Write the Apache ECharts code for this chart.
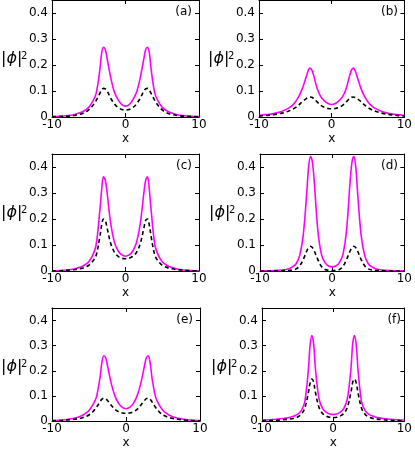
<!DOCTYPE html>
<html>
<head>
<meta charset="utf-8">
<script src="https://cdn.jsdelivr.net/npm/echarts@6/dist/echarts.min.js"></script>
<style>
  html, body { margin: 0; padding: 0; background: #fff; }
  #chart { width: 415px; height: 450px; }
</style>
</head>
<body>
<div id="chart"></div>
<script>
// sample positions along x (shared by every curve)
const xs = [-10, -9, -8, -7, -6, -5.5, -5, -4.5, -4, -3.5, -3.25, -3, -2.75, -2.5, -2, -1.5, -1, -0.5,
  0, 0.5, 1, 1.5, 2, 2.5, 2.75, 3, 3.25, 3.5, 4, 4.5, 5, 5.5, 6, 7, 8, 9, 10];

const panelLabels = ['(a)', '(b)', '(c)', '(d)', '(e)', '(f)'];
const xTicks = [-10, 0, 10];
const yTicks = [0, 0.1, 0.2, 0.3, 0.4];

// solid magenta curves
const solidA = [0.002, 0.003, 0.005, 0.009, 0.018, 0.026, 0.037, 0.058, 0.09, 0.18, 0.245, 0.268, 0.26, 0.225, 0.15, 0.095, 0.066, 0.048,
  0.042, 0.048, 0.066, 0.095, 0.15, 0.225, 0.26, 0.268, 0.245, 0.18, 0.09, 0.058, 0.037, 0.026, 0.018, 0.009, 0.005, 0.003, 0.002];
const solidB = [0.006, 0.009, 0.013, 0.02, 0.033, 0.043, 0.058, 0.08, 0.112, 0.155, 0.177, 0.188, 0.182, 0.162, 0.11, 0.078, 0.062, 0.052,
  0.048, 0.052, 0.062, 0.078, 0.11, 0.162, 0.182, 0.188, 0.177, 0.155, 0.112, 0.08, 0.058, 0.043, 0.033, 0.02, 0.013, 0.009, 0.006];
const solidC = [0.001, 0.002, 0.004, 0.008, 0.016, 0.024, 0.036, 0.058, 0.1, 0.23, 0.31, 0.362, 0.35, 0.3, 0.18, 0.11, 0.077, 0.062,
  0.057, 0.062, 0.077, 0.11, 0.18, 0.3, 0.35, 0.362, 0.31, 0.23, 0.1, 0.058, 0.036, 0.024, 0.016, 0.008, 0.004, 0.002, 0.001];
const solidD = [0.001, 0.001, 0.002, 0.004, 0.009, 0.016, 0.028, 0.06, 0.14, 0.31, 0.405, 0.44, 0.42, 0.35, 0.16, 0.065, 0.032, 0.019,
  0.016, 0.019, 0.032, 0.065, 0.16, 0.35, 0.42, 0.44, 0.405, 0.31, 0.14, 0.06, 0.028, 0.016, 0.009, 0.004, 0.002, 0.001, 0.001];
const solidE = [0.002, 0.003, 0.006, 0.011, 0.021, 0.03, 0.042, 0.063, 0.095, 0.175, 0.235, 0.26, 0.252, 0.22, 0.15, 0.1, 0.07, 0.054,
  0.049, 0.054, 0.07, 0.1, 0.15, 0.22, 0.252, 0.26, 0.235, 0.175, 0.095, 0.063, 0.042, 0.03, 0.021, 0.011, 0.006, 0.003, 0.002];
const solidF = [0.004, 0.005, 0.007, 0.01, 0.015, 0.02, 0.026, 0.04, 0.075, 0.2, 0.3, 0.34, 0.31, 0.21, 0.09, 0.05, 0.035, 0.028,
  0.026, 0.028, 0.035, 0.05, 0.09, 0.21, 0.31, 0.34, 0.3, 0.2, 0.075, 0.04, 0.026, 0.02, 0.015, 0.01, 0.007, 0.005, 0.004];

// dashed black curves
const dashA = [0.001, 0.002, 0.003, 0.006, 0.012, 0.018, 0.027, 0.042, 0.063, 0.09, 0.103, 0.11, 0.108, 0.1, 0.072, 0.05, 0.036, 0.029,
  0.027, 0.029, 0.036, 0.05, 0.072, 0.1, 0.108, 0.11, 0.103, 0.09, 0.063, 0.042, 0.027, 0.018, 0.012, 0.006, 0.003, 0.002, 0.001];
const dashB = [0.004, 0.006, 0.009, 0.014, 0.022, 0.028, 0.036, 0.047, 0.06, 0.071, 0.075, 0.077, 0.076, 0.072, 0.058, 0.045, 0.037, 0.033,
  0.032, 0.033, 0.037, 0.045, 0.058, 0.072, 0.076, 0.077, 0.075, 0.071, 0.06, 0.047, 0.036, 0.028, 0.022, 0.014, 0.009, 0.006, 0.004];
const dashC = [0.001, 0.001, 0.003, 0.005, 0.01, 0.015, 0.022, 0.036, 0.06, 0.13, 0.175, 0.2, 0.195, 0.165, 0.105, 0.072, 0.056, 0.049,
  0.047, 0.049, 0.056, 0.072, 0.105, 0.165, 0.195, 0.2, 0.175, 0.13, 0.06, 0.036, 0.022, 0.015, 0.01, 0.005, 0.003, 0.001, 0.001];
const dashD = [0, 0, 0, 0.001, 0.002, 0.004, 0.008, 0.02, 0.045, 0.078, 0.09, 0.095, 0.09, 0.078, 0.045, 0.018, 0.006, 0.003,
  0.002, 0.003, 0.006, 0.018, 0.045, 0.078, 0.09, 0.095, 0.09, 0.078, 0.045, 0.02, 0.008, 0.004, 0.002, 0.001, 0, 0, 0];
const dashE = [0.001, 0.002, 0.004, 0.007, 0.012, 0.017, 0.024, 0.036, 0.054, 0.077, 0.087, 0.091, 0.089, 0.082, 0.063, 0.046, 0.037, 0.032,
  0.031, 0.032, 0.037, 0.046, 0.063, 0.082, 0.089, 0.091, 0.087, 0.077, 0.054, 0.036, 0.024, 0.017, 0.012, 0.007, 0.004, 0.002, 0.001];
const dashF = [0.002, 0.002, 0.003, 0.005, 0.008, 0.011, 0.016, 0.026, 0.05, 0.11, 0.15, 0.167, 0.155, 0.115, 0.055, 0.03, 0.02, 0.015,
  0.014, 0.015, 0.02, 0.03, 0.055, 0.115, 0.155, 0.167, 0.15, 0.11, 0.05, 0.026, 0.016, 0.011, 0.008, 0.005, 0.003, 0.002, 0.002];

const solids = [solidA, solidB, solidC, solidD, solidE, solidF];
const dashes = [dashA, dashB, dashC, dashD, dashE, dashF];

// panel rectangles in px
const boxes = [
  { left: 52, top: 0, width: 147, height: 117 },
  { left: 259, top: 0, width: 146, height: 117 },
  { left: 52, top: 154, width: 147, height: 117 },
  { left: 260, top: 154, width: 145, height: 117 },
  { left: 52, top: 308, width: 148, height: 117 },
  { left: 262, top: 308, width: 146, height: 117 }
];

const FONT = 'DejaVu Sans';
const lineCol = '#000';

function pairs(ys) {
  return xs.map((x, i) => [x, ys[i]]);
}

const grid = [], xAxis = [], yAxis = [], series = [], graphic = [];

boxes.forEach((b, i) => {
  grid.push({ left: b.left, top: b.top, width: b.width, height: b.height, containLabel: false });

  const xBase = {
    type: 'value', gridIndex: i, min: xTicks[0], max: xTicks[2], interval: 10,
    axisLine: { show: true, onZero: false, lineStyle: { color: lineCol, width: 1 } },
    axisTick: { show: true, inside: true, length: 4, lineStyle: { color: lineCol } },
    splitLine: { show: false }
  };
  xAxis.push(Object.assign({}, xBase, {
    position: 'bottom',
    name: 'x', nameLocation: 'middle', nameGap: 16,
    nameTextStyle: { fontFamily: FONT, fontSize: 12, color: '#000' },
    axisLabel: { fontFamily: FONT, fontSize: 12, color: '#000', margin: 2 }
  }));
  xAxis.push(Object.assign({}, xBase, { position: 'top', axisLabel: { show: false } }));

  const yBase = {
    type: 'value', gridIndex: i, min: 0, max: 0.45, interval: 0.1,
    axisLine: { show: true, onZero: false, lineStyle: { color: lineCol, width: 1 } },
    axisTick: { show: true, inside: true, length: 4, lineStyle: { color: lineCol } },
    splitLine: { show: false }
  };
  yAxis.push(Object.assign({}, yBase, {
    position: 'left',
    axisLabel: { fontFamily: FONT, fontSize: 12, color: '#000', margin: 4, showMaxLabel: false }
  }));
  yAxis.push(Object.assign({}, yBase, { position: 'right', axisLabel: { show: false } }));

  series.push({
    type: 'line', xAxisIndex: 2 * i, yAxisIndex: 2 * i, data: pairs(solids[i]),
    showSymbol: false, smooth: 0.35, lineStyle: { color: '#ff00ff', width: 1.6 }, z: 2
  });
  series.push({
    type: 'line', xAxisIndex: 2 * i, yAxisIndex: 2 * i, data: pairs(dashes[i]),
    showSymbol: false, smooth: 0.35, lineStyle: { color: '#000', width: 1.6, type: [4, 3] }, z: 3
  });

  // y axis title |ϕ|^2
  graphic.push({
    type: 'text', left: b.left - 51, top: b.top + b.height / 2 - 8,
    style: {
      text: '|{i|ϕ}|', fill: '#000', font: '16px "' + FONT + '"',
      rich: { i: { fontStyle: 'italic', fontSize: 16, fontFamily: FONT, fill: '#000' } }
    }
  });
  graphic.push({
    type: 'text', left: b.left - 31, top: b.top + b.height / 2 - 7,
    style: { text: '2', fill: '#000', font: '10px "' + FONT + '"' }
  });
  // panel tag
  graphic.push({
    type: 'text', right: 415 - (b.left + b.width) + 7, top: b.top + 6,
    style: { text: panelLabels[i], fill: '#000', font: '12px "' + FONT + '"' }
  });
});

const chart = echarts.init(document.getElementById('chart'), null, { renderer: 'canvas' });
chart.setOption({
  animation: false,
  backgroundColor: '#fff',
  grid, xAxis, yAxis, series, graphic
});
</script>
</body>
</html>
